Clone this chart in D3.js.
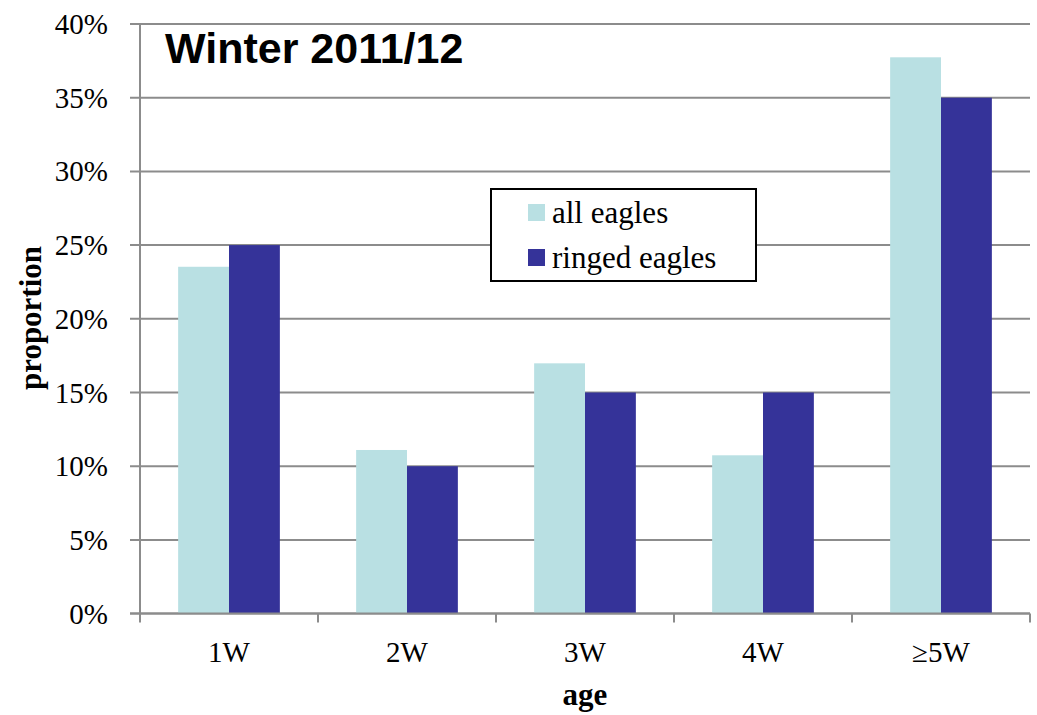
<!DOCTYPE html>
<html>
<head>
<meta charset="utf-8">
<script src="https://cdn.jsdelivr.net/npm/d3@7"></script>
<style>
  body { margin: 0; background: #fff; }
  text { font-family: "Liberation Serif", "Times New Roman", serif; }
</style>
</head>
<body>
<script>
let categories = ["1W", "2W", "3W", "4W", "\u22655W"];
let seriesNames = ["all eagles", "ringed eagles"];
let allEagles = [23.53, 11.1, 16.98, 10.74, 37.74];
let ringedEagles = [25, 10, 15, 15, 35];
let yTicks = [0, 5, 10, 15, 20, 25, 30, 35, 40];
let colors = ["#b9e0e3", "#353399"];

let width = 1037, height = 715;
let plotLeft = 140, plotRight = 1030, plotTop = 24, plotBottom = 613.6;
let serif = "'Liberation Serif', 'Times New Roman', serif";

let svg = d3.select("body").append("svg")
    .attr("width", width)
    .attr("height", height);

let y = d3.scaleLinear().domain([0, 40]).range([plotBottom, plotTop]);
let x = d3.scaleBand().domain(categories).range([plotLeft, plotRight]).padding(0);
let x1 = d3.scaleBand().domain(seriesNames)
    .range([0, x.bandwidth()])
    .paddingInner(0)
    .paddingOuter(0.75);

// gridlines
svg.append("g")
    .selectAll("line")
    .data(yTicks)
    .enter()
        .append("line")
        .attr("x1", plotLeft - 10)
        .attr("x2", plotRight)
        .attr("y1", (d) => y(d))
        .attr("y2", (d) => y(d))
        .attr("stroke", "#8c8c8c")
        .attr("stroke-width", 2);

// y labels
svg.append("g")
    .selectAll("text")
    .data(yTicks)
    .enter()
        .append("text")
        .attr("x", 108)
        .attr("y", (d) => y(d) + 10)
        .attr("text-anchor", "end")
        .style("font-family", serif)
        .attr("font-size", 29)
        .text((d) => d + "%");

// bars
let series = [allEagles, ringedEagles];
let rows = [];
categories.forEach((c, i) => {
    seriesNames.forEach((s, j) => {
        rows.push({ cat: c, name: s, value: series[j][i], color: colors[j] });
    });
});

svg.append("g")
    .selectAll("rect")
    .data(rows)
    .enter()
        .append("rect")
        .attr("x", (d) => x(d.cat) + x1(d.name))
        .attr("y", (d) => y(d.value))
        .attr("width", x1.bandwidth())
        .attr("height", (d) => y(0) - y(d.value))
        .attr("fill", (d) => d.color);

// axis lines
svg.append("line")
    .attr("x1", plotLeft).attr("x2", plotLeft)
    .attr("y1", plotTop).attr("y2", plotBottom)
    .attr("stroke", "#8c8c8c").attr("stroke-width", 2);

svg.append("line")
    .attr("x1", plotLeft - 10).attr("x2", plotRight)
    .attr("y1", plotBottom).attr("y2", plotBottom)
    .attr("stroke", "#8c8c8c").attr("stroke-width", 2);

// category tick marks at band edges
let edges = categories.map((c) => x(c)).concat([plotRight]);
svg.append("g")
    .selectAll("line")
    .data(edges)
    .enter()
        .append("line")
        .attr("x1", (d) => d)
        .attr("x2", (d) => d)
        .attr("y1", plotBottom)
        .attr("y2", plotBottom + 9)
        .attr("stroke", "#8c8c8c")
        .attr("stroke-width", 2);

svg.append("g")
    .selectAll("text")
    .data(categories)
    .enter()
        .append("text")
        .attr("x", (d) => x(d) + x.bandwidth() / 2)
        .attr("y", 662)
        .attr("text-anchor", "middle")
        .style("font-family", serif)
        .attr("font-size", 29)
        .text((d) => d);

// axis titles
svg.append("text")
    .attr("x", 585)
    .attr("y", 705)
    .attr("text-anchor", "middle")
    .style("font-family", serif)
    .attr("font-size", 31)
    .attr("font-weight", "bold")
    .text("age");

svg.append("text")
    .attr("transform", "translate(41, 318) rotate(-90)")
    .attr("text-anchor", "middle")
    .style("font-family", serif)
    .attr("font-size", 31)
    .attr("font-weight", "bold")
    .text("proportion");

// title
svg.append("text")
    .attr("x", 165)
    .attr("y", 63)
    .style("font-family", "'Liberation Sans', Arial, sans-serif")
    .attr("font-size", 43)
    .attr("font-weight", "bold")
    .text("Winter 2011/12");

// legend
let legend = svg.append("g");
legend.append("rect")
    .attr("x", 491).attr("y", 189)
    .attr("width", 265).attr("height", 92)
    .attr("fill", "#fff")
    .attr("stroke", "#000")
    .attr("stroke-width", 2);

let items = legend.selectAll("g.item")
    .data(seriesNames)
    .enter()
        .append("g")
        .attr("class", "item")
        .attr("transform", (d, i) => `translate(528, ${204 + i * 45})`);

items.append("rect")
    .attr("width", 17).attr("height", 17)
    .attr("fill", (d, i) => colors[i]);

items.append("text")
    .attr("x", 24)
    .attr("y", 19)
    .style("font-family", serif)
    .attr("font-size", 31)
    .text((d) => d);
</script>
</body>
</html>
